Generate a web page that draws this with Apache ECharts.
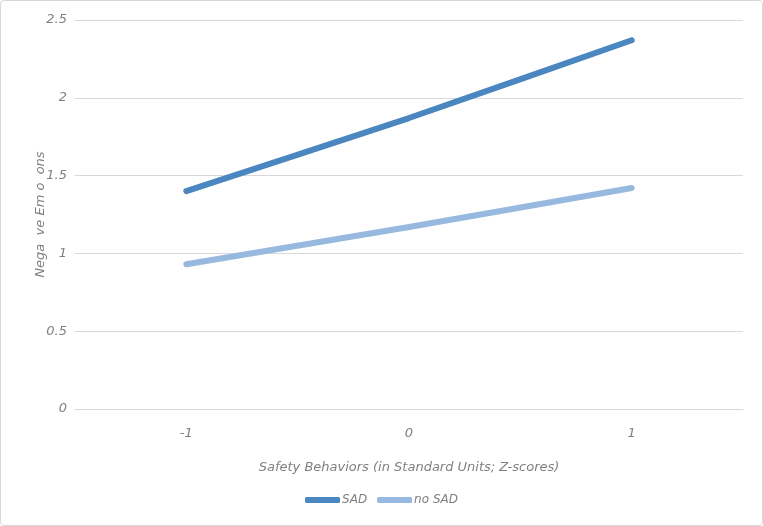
<!DOCTYPE html>
<html><head><meta charset="utf-8">
<script src="https://cdn.jsdelivr.net/npm/echarts@6/dist/echarts.min.js"></script>
<style>html,body{margin:0;padding:0;background:#fff}#c{width:763px;height:526px;box-sizing:border-box;border:1px solid #d9d9d9;border-radius:4px}</style>
</head><body><div id="c"></div>
<script>
const categories = ['-1', '0', '1'];
const sadValues = [1.40, 1.87, 2.37];
const noSadValues = [0.93, 1.17, 1.42];
const seriesNames = ['SAD', 'no SAD'];
const xAxisTitle = 'Safety Behaviors (in Standard Units; Z-scores)';
const yAxisTitle = 'Nega  ve Em o  ons';

const font = { fontFamily: 'DejaVu Sans', fontStyle: 'italic', fontWeight: 200, color: '#808080' };
const chart = echarts.init(document.getElementById('c'), null, { renderer: 'canvas' });
chart.setOption({
  animation: false,
  grid: { left: 74, right: 19, top: 19, bottom: 116 },
  legend: {
    bottom: 14, left: 'center', itemWidth: 35, itemHeight: 6, itemGap: 10,
    icon: 'roundRect',
    textStyle: Object.assign({ fontSize: 12, padding: [0, 0, 0, -3] }, font),
    data: seriesNames
  },
  xAxis: {
    type: 'category', data: categories, boundaryGap: true,
    axisLine: { lineStyle: { color: '#d9d9d9', width: 1 } },
    axisTick: { show: false },
    axisLabel: Object.assign({ fontSize: 13, margin: 18 }, font),
    name: xAxisTitle, nameLocation: 'middle', nameGap: 52,
    nameTextStyle: Object.assign({ fontSize: 13 }, font)
  },
  yAxis: {
    type: 'value', min: 0, max: 2.5, interval: 0.5,
    axisLine: { show: false }, axisTick: { show: false },
    splitLine: { lineStyle: { color: '#d9d9d9', width: 1 } },
    axisLabel: Object.assign({ fontSize: 13, margin: 8 }, font),
    name: yAxisTitle, nameLocation: 'middle', nameGap: 28, nameMoveOverlap: false, nameRotate: 90,
    nameTextStyle: Object.assign({ fontSize: 13 }, font)
  },
  series: [
    { name: seriesNames[0], type: 'line', data: sadValues, smooth: 0.15, showSymbol: false,
      lineStyle: { width: 6, color: '#4a86bf', cap: 'round' }, itemStyle: { color: '#4a86bf' } },
    { name: seriesNames[1], type: 'line', data: noSadValues, smooth: 0.15, showSymbol: false,
      lineStyle: { width: 6, color: '#97b9e0', cap: 'round' }, itemStyle: { color: '#97b9e0' } }
  ]
});
</script></body></html>
